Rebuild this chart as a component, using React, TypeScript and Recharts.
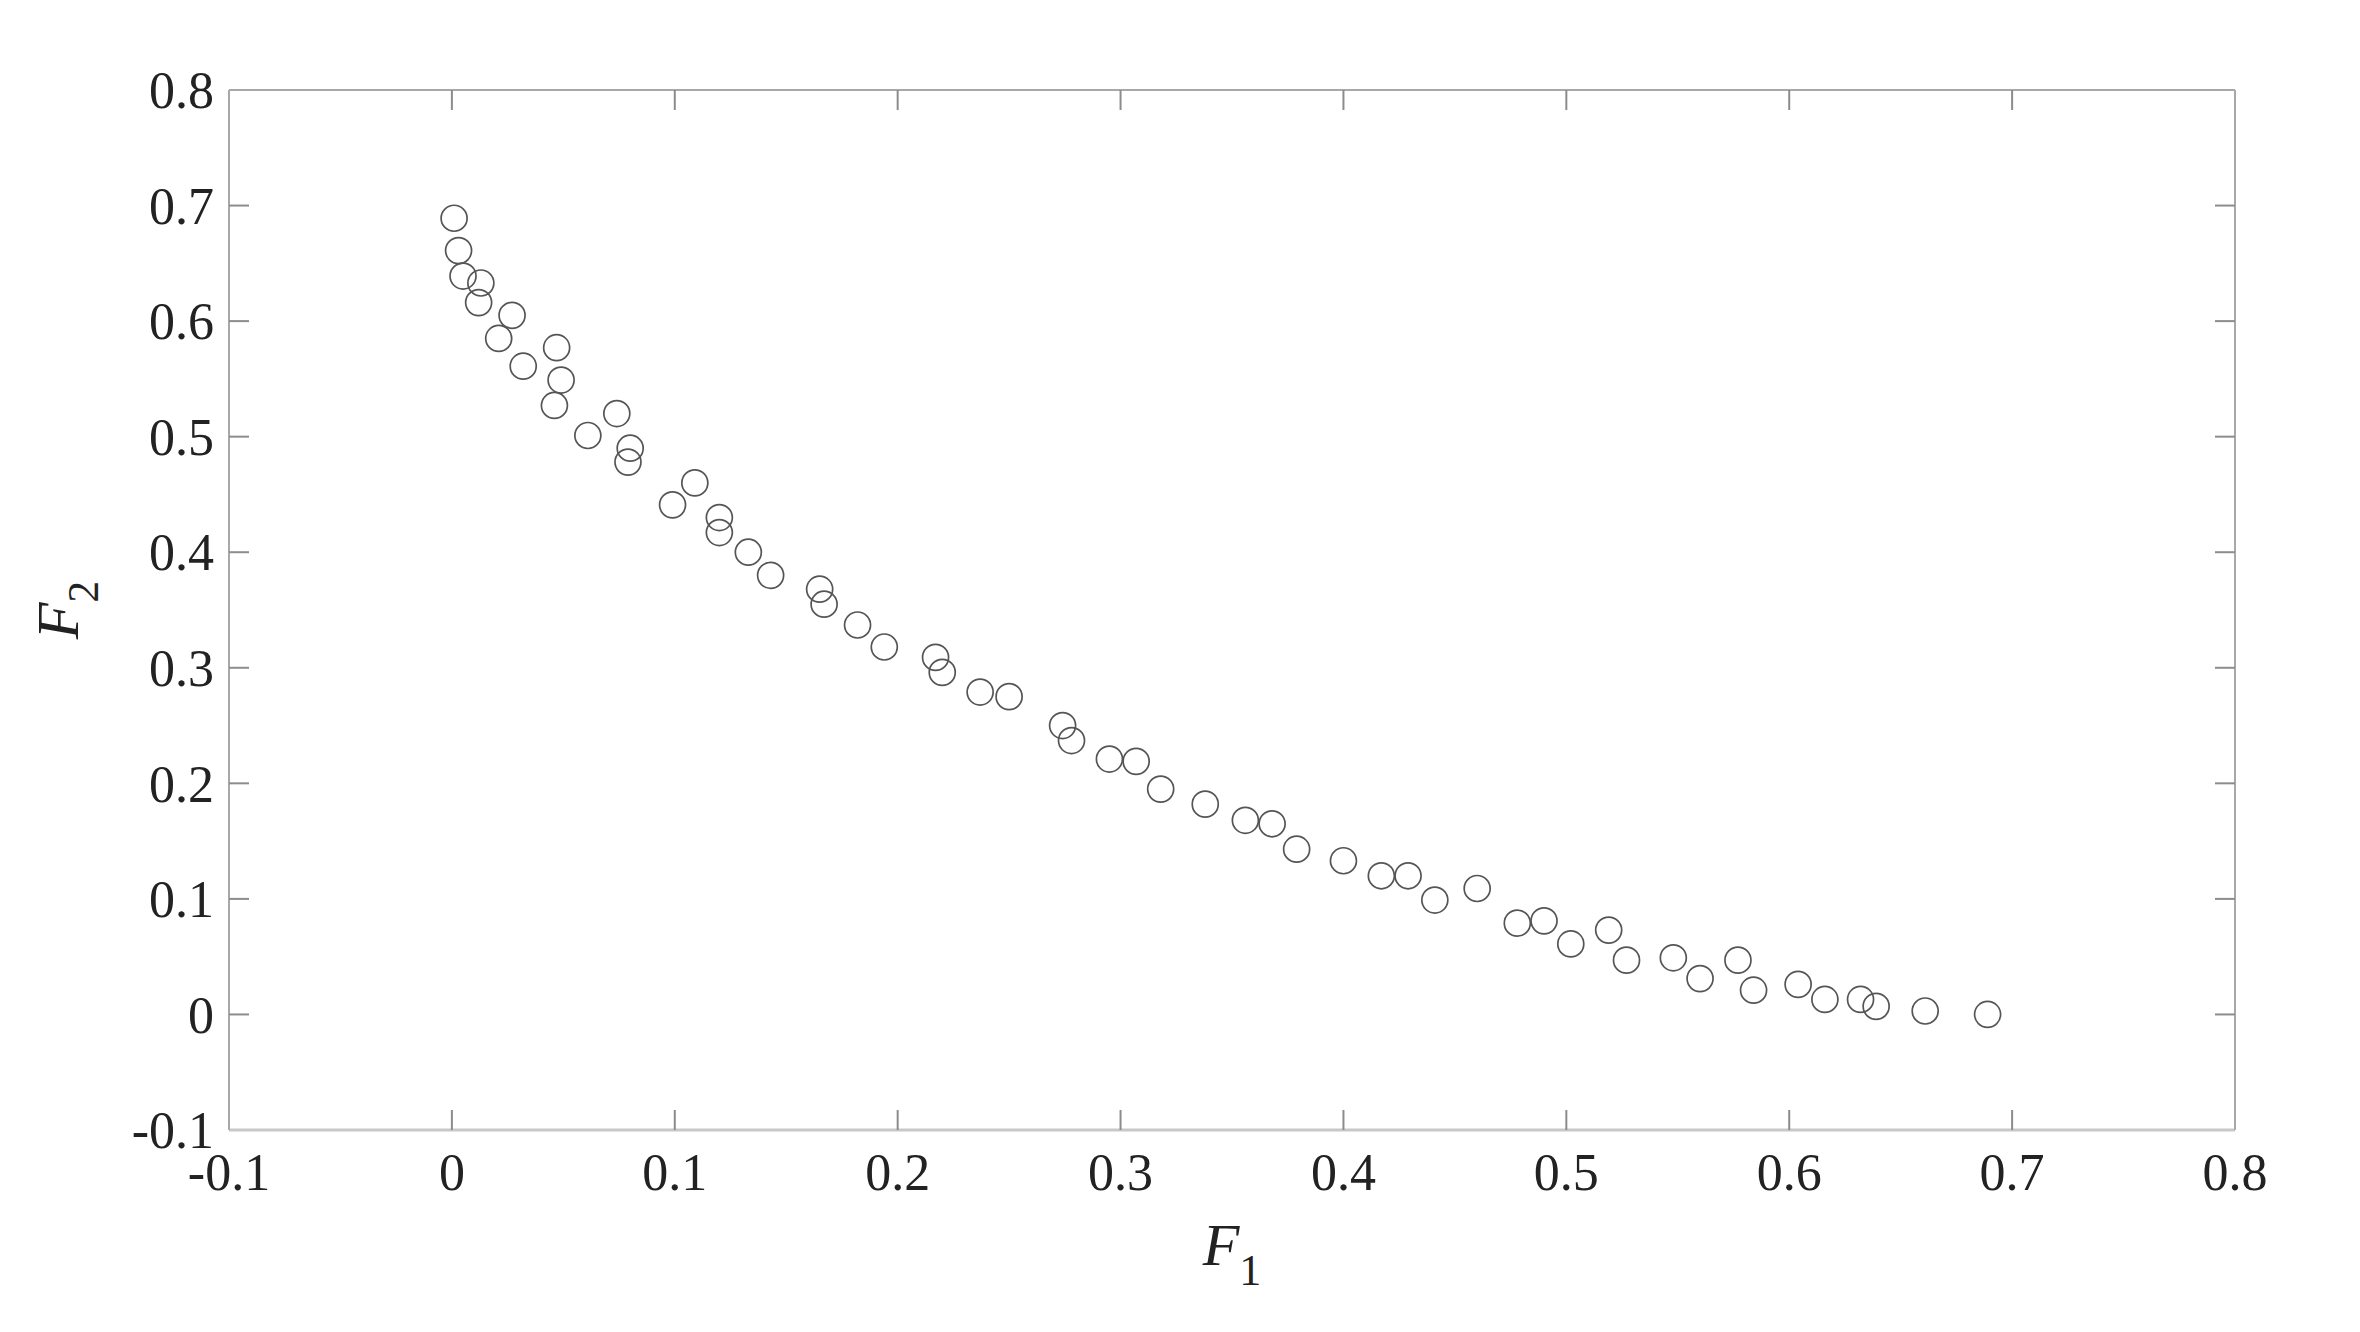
import { ScatterChart, Scatter, XAxis, YAxis } from 'recharts'

// F1 / F2 values
const f1 = [
  0.001, 0.003, 0.005, 0.013, 0.012, 0.027, 0.021, 0.032, 0.047, 0.049,
  0.046, 0.061, 0.074, 0.08, 0.079, 0.099, 0.109, 0.12, 0.12, 0.133,
  0.143, 0.165, 0.167, 0.182, 0.194, 0.217, 0.22, 0.237, 0.25, 0.274,
  0.278, 0.295, 0.307, 0.318, 0.338, 0.356, 0.368, 0.379, 0.4, 0.417,
  0.429, 0.441, 0.46, 0.478, 0.49, 0.502, 0.519, 0.527, 0.548, 0.56,
  0.577, 0.584, 0.604, 0.616, 0.632, 0.639, 0.661, 0.689,
]
const f2 = [
  0.689, 0.661, 0.639, 0.633, 0.616, 0.605, 0.585, 0.561, 0.577, 0.549,
  0.527, 0.501, 0.52, 0.49, 0.478, 0.441, 0.46, 0.43, 0.417, 0.4,
  0.38, 0.368, 0.355, 0.337, 0.318, 0.309, 0.296, 0.279, 0.275, 0.25,
  0.237, 0.221, 0.219, 0.195, 0.182, 0.168, 0.165, 0.143, 0.133, 0.12,
  0.12, 0.099, 0.109, 0.079, 0.081, 0.061, 0.073, 0.047, 0.049, 0.031,
  0.047, 0.021, 0.026, 0.013, 0.013, 0.007, 0.003, 0.0,
]
const xTicks = [-0.1, 0, 0.1, 0.2, 0.3, 0.4, 0.5, 0.6, 0.7, 0.8]
const yTicks = [-0.1, 0, 0.1, 0.2, 0.3, 0.4, 0.5, 0.6, 0.7, 0.8]

const W = 2344
const H = 1316
const LEFT = 221
const TOP = 82
const PLOT_W = 2006
const PLOT_H = 1040
const X_MARGIN = 23
const Y_MARGIN = 15
const TICK_LEN = 20
const FONT = '"Liberation Serif", "Times New Roman", serif'
const BOX = '#a8a8a8'
const TICK = '#8c8c8c'

const data = f1.map((x, i) => ({ x, y: f2[i] }))

const fmt = (v: number) => (v === 0 ? '0' : String(v))

// bottom tick labels + inward ticks on bottom and top edges (and the top border)
function XTick(props: any) {
  const { x, y, payload, index } = props
  const base = y - X_MARGIN
  const v = payload.value
  const inner = v > -0.1 && v < 0.8
  return (
    <g>
      {index === 0 && (
        <line x1={x} x2={x + PLOT_W} y1={base - PLOT_H} y2={base - PLOT_H} stroke={BOX} strokeWidth={2} />
      )}
      {inner && (
        <>
          <line x1={x} x2={x} y1={base} y2={base - TICK_LEN} stroke={TICK} strokeWidth={2} />
          <line x1={x} x2={x} y1={base - PLOT_H} y2={base - PLOT_H + TICK_LEN} stroke={TICK} strokeWidth={2} />
        </>
      )}
      <text x={x} y={y} dy="0.71em" textAnchor="middle" fontFamily={FONT} fontSize={52} fill="#222">
        {fmt(v)}
      </text>
    </g>
  )
}

// left tick labels + inward ticks on left and right edges (and the right border)
function YTick(props: any) {
  const { x, y, payload, index } = props
  const base = x + Y_MARGIN
  const v = payload.value
  const inner = v > -0.1 && v < 0.8
  return (
    <g>
      {index === 0 && (
        <line x1={base + PLOT_W} x2={base + PLOT_W} y1={y} y2={y - PLOT_H} stroke={BOX} strokeWidth={2} />
      )}
      {inner && (
        <>
          <line x1={base} x2={base + TICK_LEN} y1={y} y2={y} stroke={TICK} strokeWidth={2} />
          <line x1={base + PLOT_W} x2={base + PLOT_W - TICK_LEN} y1={y} y2={y} stroke={TICK} strokeWidth={2} />
        </>
      )}
      <text x={x} y={y} dy="0.35em" textAnchor="end" fontFamily={FONT} fontSize={52} fill="#222">
        {fmt(v)}
      </text>
    </g>
  )
}

function Ring(props: any) {
  const { cx, cy } = props
  return <circle cx={cx} cy={cy} r={13} fill="none" stroke="#555" strokeWidth={1.7} />
}

export default function App() {
  return (
    <div style={{ width: W, height: H, background: '#fff' }}>
      <ScatterChart
        width={W}
        height={H}
        margin={{ top: TOP, right: W - LEFT - PLOT_W, bottom: 0, left: 0 }}
      >
        <XAxis
          type="number"
          dataKey="x"
          domain={[-0.1, 0.8]}
          ticks={xTicks}
          interval={0}
          allowDataOverflow
          height={H - TOP - PLOT_H}
          tickSize={0}
          tickMargin={X_MARGIN}
          tick={<XTick />}
          axisLine={{ stroke: '#c8c8c8', strokeWidth: 3 }}
          label={{
            content: ({ viewBox }: any) => {
              const cx = viewBox.x + viewBox.width / 2
              const ty = viewBox.y + 135
              return (
                <text x={cx} y={ty} textAnchor="middle" fontFamily={FONT} fontSize={60} fill="#222">
                  <tspan fontStyle="italic">F</tspan>
                  <tspan fontSize={44} dy={20}>1</tspan>
                </text>
              )
            },
          }}
        />
        <YAxis
          type="number"
          dataKey="y"
          domain={[-0.1, 0.8]}
          ticks={yTicks}
          interval={0}
          allowDataOverflow
          width={LEFT}
          tickSize={0}
          tickMargin={Y_MARGIN}
          tick={<YTick />}
          axisLine={{ stroke: BOX, strokeWidth: 2 }}
          label={{
            content: ({ viewBox }: any) => {
              const cy = viewBox.y + viewBox.height / 2
              const tx = 70
              return (
                <text
                  x={tx}
                  y={cy}
                  transform={`rotate(-90 ${tx} ${cy})`}
                  textAnchor="middle"
                  fontFamily={FONT}
                  fontSize={60}
                  fill="#222"
                >
                  <tspan fontStyle="italic">F</tspan>
                  <tspan fontSize={44} dy={20}>2</tspan>
                </text>
              )
            },
          }}
        />
        <Scatter data={data} shape={<Ring />} isAnimationActive={false} />
      </ScatterChart>
    </div>
  )
}
